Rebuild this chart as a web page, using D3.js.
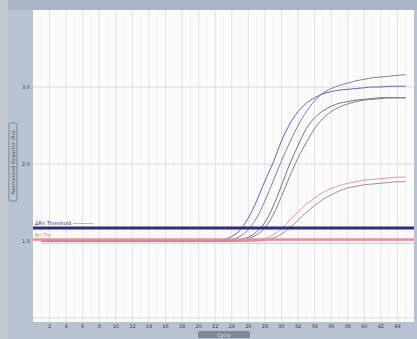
<!DOCTYPE html>
<html>
<head>
<meta charset="utf-8">
<script src="https://cdn.jsdelivr.net/npm/d3@7"></script>
<style>
  body { margin: 0; background: #b7c1d1; }
  svg { display: block; font-family: "DejaVu Sans", sans-serif; }
</style>
</head>
<body>
<svg id="chart"></svg>
<script>
// qPCR amplification plot

const width = 417;
const height = 339;

const cycles = d3.range(1, 46);
const xTicks = d3.range(2, 45, 2);
const yTicks = [1, 2, 3];

// fluorescence per cycle
const wellA = [1.0, 1.0, 1.0, 1.0, 1.0, 1.0, 1.0, 1.0, 1.0, 1.0, 1.0, 1.0, 1.0, 1.0, 1.0, 1.0, 1.0, 1.0, 1.0, 1.0, 1.0, 1.0,
  1.02, 1.06, 1.14, 1.30, 1.52, 1.78, 2.02, 2.30, 2.52, 2.68, 2.79, 2.86, 2.91, 2.94, 2.96, 2.97, 2.98, 2.99, 3.00, 3.00, 3.01, 3.01, 3.01];
const wellB = [1.0, 1.0, 1.0, 1.0, 1.0, 1.0, 1.0, 1.0, 1.0, 1.0, 1.0, 1.0, 1.0, 1.0, 1.0, 1.0, 1.0, 1.0, 1.0, 1.0, 1.0, 1.0, 1.0,
  1.02, 1.06, 1.15, 1.30, 1.52, 1.78, 2.04, 2.28, 2.50, 2.68, 2.82, 2.92, 2.98, 3.02, 3.05, 3.08, 3.10, 3.12, 3.13, 3.14, 3.15, 3.16];
const wellC = [1.0, 1.0, 1.0, 1.0, 1.0, 1.0, 1.0, 1.0, 1.0, 1.0, 1.0, 1.0, 1.0, 1.0, 1.0, 1.0, 1.0, 1.0, 1.0, 1.0, 1.0, 1.0, 1.0, 1.0,
  1.02, 1.05, 1.12, 1.24, 1.45, 1.72, 2.00, 2.24, 2.46, 2.60, 2.69, 2.75, 2.79, 2.81, 2.83, 2.84, 2.85, 2.86, 2.86, 2.86, 2.86];
const wellD = [1.0, 1.0, 1.0, 1.0, 1.0, 1.0, 1.0, 1.0, 1.0, 1.0, 1.0, 1.0, 1.0, 1.0, 1.0, 1.0, 1.0, 1.0, 1.0, 1.0, 1.0, 1.0, 1.0, 1.0, 1.0,
  1.03, 1.08, 1.17, 1.34, 1.58, 1.84, 2.08, 2.28, 2.46, 2.59, 2.68, 2.74, 2.78, 2.81, 2.83, 2.84, 2.85, 2.86, 2.86, 2.86];
const wellE = [1.0, 1.0, 1.0, 1.0, 1.0, 1.0, 1.0, 1.0, 1.0, 1.0, 1.0, 1.0, 1.0, 1.0, 1.0, 1.0, 1.0, 1.0, 1.0, 1.0, 1.0, 1.0, 1.0, 1.0, 1.0, 1.0,
  1.01, 1.03, 1.08, 1.16, 1.27, 1.38, 1.48, 1.56, 1.63, 1.68, 1.72, 1.75, 1.77, 1.79, 1.80, 1.81, 1.82, 1.83, 1.83];
const wellF = [1.0, 1.0, 1.0, 1.0, 1.0, 1.0, 1.0, 1.0, 1.0, 1.0, 1.0, 1.0, 1.0, 1.0, 1.0, 1.0, 1.0, 1.0, 1.0, 1.0, 1.0, 1.0, 1.0, 1.0, 1.0, 1.0, 1.0,
  1.01, 1.04, 1.09, 1.17, 1.27, 1.37, 1.46, 1.54, 1.60, 1.65, 1.69, 1.71, 1.73, 1.74, 1.75, 1.76, 1.77, 1.77];

const wells = [wellA, wellB, wellC, wellD, wellE, wellF];
const wellColors = ["#6464b4", "#828190", "#727180", "#857a98", "#e49a9a", "#9a929c"];

const thresholdBlue = 1.17;
const thresholdRed = 1.02;
const baselineLine = 0.97;

const svg = d3.select("#chart").attr("width", width).attr("height", height);

// frame panels
svg.append("rect").attr("x", 0).attr("y", 0).attr("width", width).attr("height", height).attr("fill", "#b8c2d3");
svg.append("rect").attr("x", 0).attr("y", 0).attr("width", 8).attr("height", height).attr("fill", "#c3c9d3");
svg.append("rect").attr("x", 8).attr("y", 0).attr("width", width - 8).attr("height", 10).attr("fill", "#a9b5c6");

const plot = { left: 33, right: 414, top: 10, bottom: 322 };

const x = d3.scaleLinear().domain([0, 46]).range([plot.left, plot.right]);
const y = d3.scaleLinear().domain([0, 4]).range([318, 10]);

svg.append("rect")
    .attr("x", plot.left).attr("y", plot.top)
    .attr("width", plot.right - plot.left).attr("height", plot.bottom - plot.top)
    .attr("fill", "#fbfbfc");

// grid
const grid = svg.append("g");
grid.selectAll(".vminor").data(d3.range(1, 46, 2)).join("line")
    .attr("x1", d => x(d)).attr("x2", d => x(d))
    .attr("y1", plot.top).attr("y2", plot.bottom)
    .attr("stroke", "#f3f3f5").attr("stroke-width", 1);
grid.selectAll(".vmajor").data(xTicks).join("line")
    .attr("x1", d => x(d)).attr("x2", d => x(d))
    .attr("y1", plot.top).attr("y2", plot.bottom)
    .attr("stroke", "#e2e2e6").attr("stroke-width", 1);
grid.selectAll(".h").data([0, 1, 2, 3]).join("line")
    .attr("x1", plot.left).attr("x2", plot.right)
    .attr("y1", d => y(d)).attr("y2", d => y(d))
    .attr("stroke", "#dcdde2").attr("stroke-width", 1);

// y axis labels
svg.append("g").selectAll("text").data(yTicks).join("text")
    .attr("x", 30).attr("y", d => y(d) + 2)
    .attr("text-anchor", "end")
    .attr("font-size", 5).attr("fill", "#3a3f4a")
    .text(d => d.toFixed(1));

// y axis title box
svg.append("rect").attr("x", 9).attr("y", 123).attr("width", 8).attr("height", 78)
    .attr("fill", "#bcc4d2").attr("stroke", "#6e7684").attr("stroke-width", 0.8).attr("rx", 1.5);
svg.append("text")
    .attr("transform", "translate(15,162) rotate(-90)")
    .attr("text-anchor", "middle").attr("font-size", 5).attr("fill", "#4b5260")
    .text("Normalized Reporter (Rn)");

// x axis labels
svg.append("g").selectAll("text").data(xTicks).join("text")
    .attr("x", d => x(d)).attr("y", 328)
    .attr("text-anchor", "middle")
    .attr("font-size", 5).attr("fill", "#3a3f4a")
    .text(d => d);

// x axis title box
svg.append("rect").attr("x", 198).attr("y", 331).attr("width", 52).attr("height", 7)
    .attr("fill", "#7f8a98").attr("rx", 1.5);
svg.append("text").attr("x", 224).attr("y", 336.5)
    .attr("text-anchor", "middle").attr("font-size", 5).attr("fill", "#e8e6dc")
    .text("Cycle");

// amplification curves
const line = d3.line()
    .x((d, i) => x(cycles[i]))
    .y(d => y(d))
    .curve(d3.curveMonotoneX);

svg.append("g").selectAll("path").data(wells).join("path")
    .attr("d", d => line(d))
    .attr("fill", "none")
    .attr("stroke", (d, i) => wellColors[i])
    .attr("stroke-width", 1);

// baseline and thresholds
svg.append("line")
    .attr("x1", x(1)).attr("x2", plot.right)
    .attr("y1", y(baselineLine)).attr("y2", y(baselineLine))
    .attr("stroke", "#c3c6ea").attr("stroke-width", 1);
svg.append("line")
    .attr("x1", plot.left).attr("x2", plot.right)
    .attr("y1", y(thresholdRed)).attr("y2", y(thresholdRed))
    .attr("stroke", "#f08c8c").attr("stroke-width", 2.5);
svg.append("line")
    .attr("x1", plot.left).attr("x2", plot.right)
    .attr("y1", y(thresholdBlue)).attr("y2", y(thresholdBlue))
    .attr("stroke", "#2e2e78").attr("stroke-width", 3);

svg.append("text").attr("x", 35).attr("y", y(thresholdBlue) - 2.5)
    .attr("font-size", 5).attr("fill", "#2e2e78")
    .text("ΔRn Threshold ————");
svg.append("text").attr("x", 35).attr("y", y(thresholdRed) - 2)
    .attr("font-size", 5).attr("fill", "#e07070")
    .text("Rn Thr");
</script>
</body>
</html>
